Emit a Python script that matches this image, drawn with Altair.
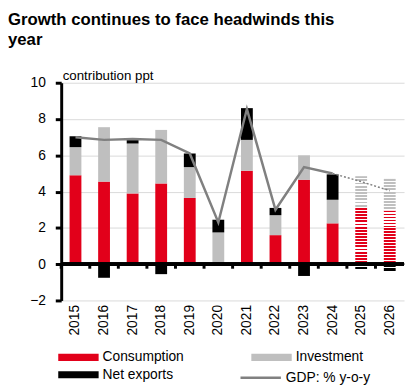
import altair as alt
import pandas as pd

years = [str(y) for y in range(2015, 2027)]
consumption = [4.9, 4.55, 3.9, 4.45, 3.65, 0.0, 5.15, 1.6, 4.65, 2.25, 3.1, 2.95]
investment = [1.55, 3.0, 2.75, 2.95, 1.7, 1.75, 1.7, 1.1, 1.35, 1.3, 1.75, 1.75]
net_exports = [0.6, -0.75, 0.25, -0.55, 0.75, 0.7, 1.75, 0.4, -0.65, 1.4, -0.3, -0.45]
gdp = [7.0, 6.85, 6.9, 6.85, 6.1, 2.3, 8.55, 3.0, 5.35, 5.0, 4.55, 4.05]
forecast_years = ["2025", "2026"]
components = ["Consumption", "Investment", "Net exports"]
gdp_label = "GDP: % y-o-y"
y_ticks = [-2, 0, 2, 4, 6, 8, 10]

RED, GREY, BLACK, LINE = "#E2001A", "#BFBFBF", "#000000", "#808080"
FONT = "Liberation Sans"

rows = []
for i, y in enumerate(years):
    fc = 1 if y in forecast_years else 0
    for k, (comp, vals) in enumerate(zip(components, [consumption, investment, net_exports])):
        rows.append({"year": y, "yr": int(y), "component": comp, "order": k, "value": vals[i], "fc": fc})
df_bars = pd.DataFrame(rows)
df_gdp = pd.DataFrame({"year": years, "yr": [int(y) for y in years], "gdp": gdp, "series": gdp_label})

x_axis = alt.Axis(labelAngle=-90, domain=False, ticks=False, labelPadding=4,
                  labelFontSize=14, labelFont=FONT, labelColor="black", title=None)
x_scale = alt.Scale(paddingInner=0, paddingOuter=0)
x_enc = alt.X("year:N", scale=x_scale, axis=x_axis)
y_scale = alt.Scale(domain=[-2, 10], nice=False, zero=False)
y_axis = alt.Axis(
    values=y_ticks, domainColor="black", domainWidth=3, tickColor="black", tickWidth=3,
    tickSize=6, labelPadding=10, labelFontSize=14, labelFont=FONT, labelColor="black",
    labelOverlap=False, grid=True, gridColor="#D9D9D9", gridWidth=1,
    title="contribution ppt", titleAngle=0, titleX=1, titleY=-3, titleAlign="left",
    titleBaseline="alphabetic", titleFontWeight="normal", titleFontSize=13.5,
    titleFont=FONT, titleColor="black")

base = alt.Chart(df_bars).transform_stack(
    stack="value", groupby=["year"], as_=["v0", "v1"],
    sort=[alt.SortField("order", "ascending")])

actual = base.transform_filter("datum.fc == 0").mark_bar(size=12).encode(
    x=x_enc,
    y=alt.Y("v0:Q", scale=y_scale, axis=y_axis),
    y2="v1:Q",
    color=alt.Color("component:N", scale=alt.Scale(domain=components, range=[RED, GREY, BLACK]),
                    legend=alt.Legend(orient="none", legendX=7, legendY=268, columns=2,
                                      direction="horizontal",
                                      columnPadding=68, rowPadding=0, title=None,
                                      symbolType="M-2,-0.35H2V0.35H-2Z", symbolSize=420,
                                      symbolStrokeWidth=0, symbolOpacity=1, labelOffset=14,
                                      labelFontSize=14, labelFont=FONT, labelColor="black",
                                      padding=0)),
)


def stripes(c, n):
    stops = []
    for i in range(n):
        a, b, e = i / n, (i + 0.6) / n, (i + 1) / n
        stops += [alt.GradientStop(offset=a, color=c), alt.GradientStop(offset=b, color=c),
                  alt.GradientStop(offset=b, color="white"), alt.GradientStop(offset=e, color="white")]
    return alt.LinearGradient(gradient="linear", stops=stops, x1=0, x2=0, y1=0, y2=1)


fc_layers = []
for comp, col, n in zip(components, [RED, GREY, BLACK], [18, 10, 2]):
    fc_layers.append(
        base.transform_filter(f"datum.fc == 1 && datum.component == '{comp}'")
        .mark_bar(size=12, fill=stripes(col, n))
        .encode(x=x_enc, y=alt.Y("v0:Q", scale=y_scale, axis=y_axis), y2="v1:Q")
    )

gdp_solid = alt.Chart(df_gdp).transform_filter("datum.yr <= 2024").mark_line(strokeWidth=2.5).encode(
    x=x_enc, y=alt.Y("gdp:Q", scale=y_scale, axis=y_axis),
    stroke=alt.Stroke("series:N", scale=alt.Scale(domain=[gdp_label], range=[LINE]),
                      legend=alt.Legend(orient="none", legendX=191, legendY=288, title=None,
                                        symbolType="M-2,0H2", symbolSize=420, symbolStrokeWidth=2.5,
                                        labelOffset=14, labelFontSize=14, labelFont=FONT,
                                        labelColor="black", padding=0)),
)
gdp_dotted = alt.Chart(df_gdp).transform_filter("datum.yr >= 2024").mark_line(
    strokeWidth=1.5, strokeDash=[2, 2], color=LINE).encode(
    x=x_enc, y=alt.Y("gdp:Q", scale=y_scale, axis=y_axis))

zero_line = alt.Chart(df_gdp).mark_rule(color="black", strokeWidth=3).encode(
    y=alt.Y(datum=0, scale=y_scale, axis=y_axis))
bound_ticks = alt.Chart(df_gdp).mark_rule(color="black", strokeWidth=3).encode(
    x=alt.X("year:N", bandPosition=0, scale=x_scale, axis=x_axis),
    y=alt.Y(datum=0, scale=y_scale, axis=y_axis), y2=alt.datum(-0.25))

chart = alt.layer(actual, *fc_layers, zero_line, bound_ticks, gdp_solid, gdp_dotted).resolve_scale(
    stroke="independent").properties(
    width=348, height=221, padding=0,
    title=alt.TitleParams(text=["Growth continues to face headwinds this", "year"], anchor="start",
                          frame="group", dx=-54, fontSize=17, fontWeight="bold", font=FONT,
                          color="black", lineHeight=21, offset=20),
).configure_view(stroke=None)

chart.save("out.html", embed_options={"renderer": "svg", "actions": False})
